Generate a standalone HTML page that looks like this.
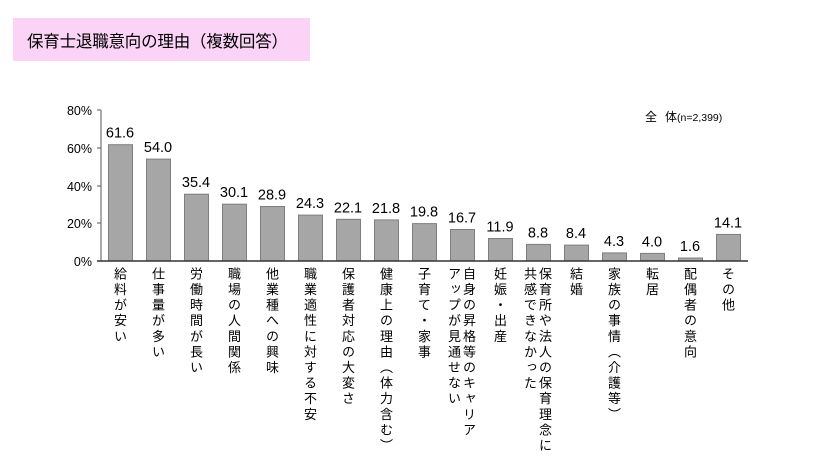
<!DOCTYPE html>
<html><head><meta charset="utf-8"><style>
body{margin:0;width:831px;height:470px;background:#fff;position:relative;overflow:hidden;font-family:"Liberation Sans","Noto Sans CJK JP",sans-serif;color:#000}
.t{position:absolute;left:13px;top:18px;width:297px;height:43px;background:#fbd3f7}
.t span{position:absolute;left:14px;top:10px;font-size:16.5px;letter-spacing:-0.2px}
.lab{position:absolute;top:267px;writing-mode:vertical-rl;font-size:13px;line-height:15px;letter-spacing:2.6px;white-space:nowrap}
svg{position:absolute;left:0;top:0}
</style></head><body>
<div class="t"><span>保育士退職意向の理由（複数回答）</span></div>
<svg width="831" height="470" font-family="Liberation Sans, Noto Sans CJK JP, sans-serif">
<g font-size="12.5" text-anchor="end">
<text x="92" y="115">80%</text><text x="92" y="153">60%</text><text x="92" y="191">40%</text><text x="92" y="228">20%</text><text x="92" y="266">0%</text>
</g>
<line x1="101" y1="110" x2="101" y2="261" stroke="#555"/>
<g stroke="#555"><line x1="97" y1="110" x2="101" y2="110"/><line x1="97" y1="148" x2="101" y2="148"/><line x1="97" y1="186" x2="101" y2="186"/><line x1="97" y1="223" x2="101" y2="223"/><line x1="97" y1="261" x2="101" y2="261"/></g>
<g id="bars" fill="#a6a6a6" stroke="#7f7f7f" stroke-width="1"></g>
<line x1="97" y1="261" x2="748" y2="261" stroke="#333" stroke-width="1.5"/>
<g id="vals" font-size="14.5" text-anchor="middle"></g>
<text x="645" y="121" font-size="12">全<tspan dx="8">体</tspan><tspan font-size="10.5">(n=2,399)</tspan></text>
</svg>
<div id="labs"></div>
<script>
var v=[61.6,54.0,35.4,30.1,28.9,24.3,22.1,21.8,19.8,16.7,11.9,8.8,8.4,4.3,4.0,1.6,14.1];
var L=["給料が安い","仕事量が多い","労働時間が長い","職場の人間関係","他業種への興味","職業適性に対する不安","保護者対応の大変さ","健康上の理由︵体力含む︶","子育て・家事","自身の昇格等のキャリア<br>アップが見通せない","妊娠・出産","保育所や法人の保育理念に<br>共感できなかった","結婚","家族の事情︵介護等︶","転居","配偶者の意向","その他"];
var b="",t="",h="";
for(var i=0;i<17;i++){var x=108+38*i,hh=v[i]*1.8875,y=261-hh;
b+='<rect x="'+(x+0.5)+'" y="'+y.toFixed(1)+'" width="24" height="'+hh.toFixed(1)+'"/>';
t+='<text x="'+(x+12)+'" y="'+(y-7).toFixed(1)+'">'+v[i].toFixed(1)+'</text>';
var two=L[i].indexOf("<br>")>=0;
h+='<div class="lab" style="left:'+(two?x-4:x+4)+'px">'+L[i]+'</div>';}
document.getElementById("bars").innerHTML=b;
document.getElementById("vals").innerHTML=t;
document.getElementById("labs").innerHTML=h;
</script>
</body></html>
